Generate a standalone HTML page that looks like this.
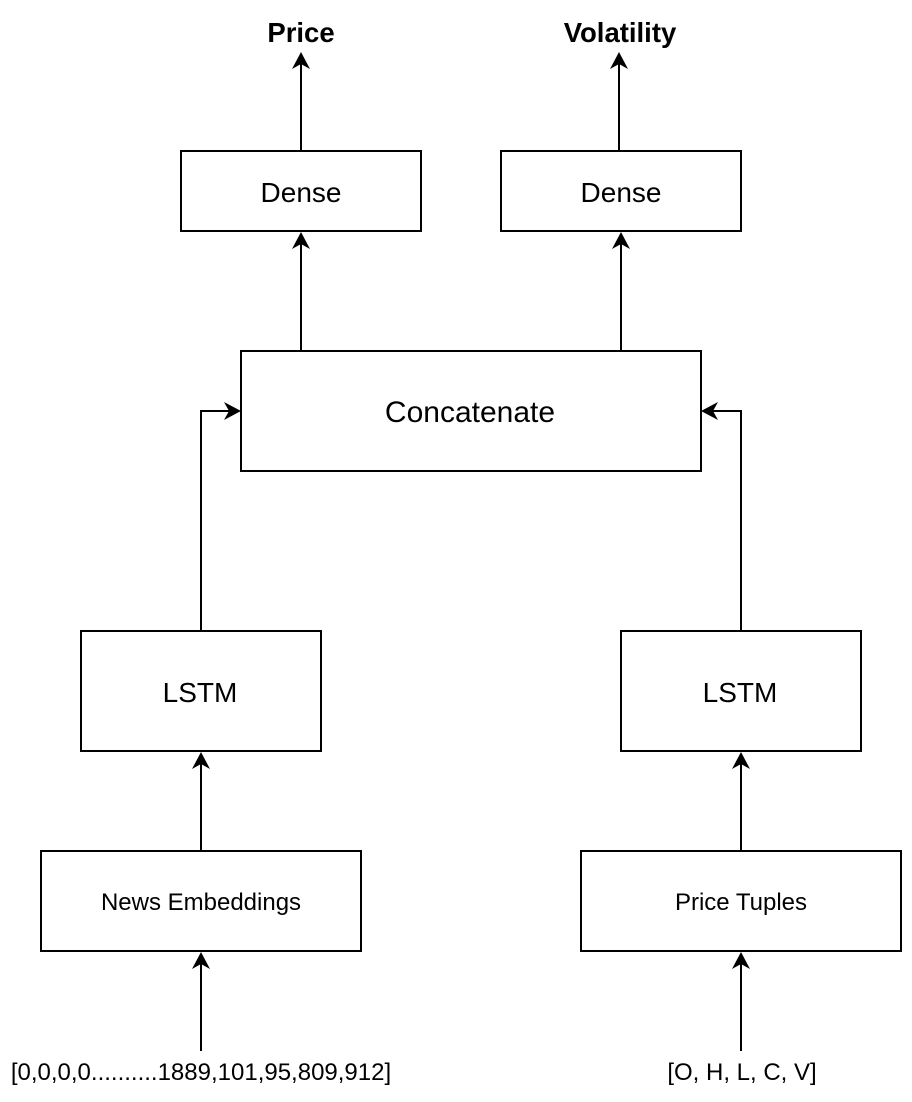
<!DOCTYPE html>
<html><head><meta charset="utf-8"><style>
html,body{margin:0;padding:0;background:#fff;}
svg{display:block;}
text{font-family:"Liberation Sans",Arial,sans-serif;fill:#000;}
</style></head><body>
<svg width="912" height="1102" viewBox="0 0 912 1102" xmlns="http://www.w3.org/2000/svg">
<g fill="none" stroke="#000" stroke-width="2">
<rect x="181" y="151" width="240" height="80"/>
<rect x="501" y="151" width="240" height="80"/>
<rect x="241" y="351" width="460" height="120"/>
<rect x="81" y="631" width="240" height="120"/>
<rect x="621" y="631" width="240" height="120"/>
<rect x="41" y="851" width="320" height="100"/>
<rect x="581" y="851" width="320" height="100"/>
<path d="M301 151V62"/>
<path d="M619 151V62"/>
<path d="M301 351V242"/>
<path d="M621 351V242"/>
<path d="M201 631V411H230"/>
<path d="M741 631V411H712"/>
<path d="M201 851V762"/>
<path d="M741 851V762"/>
<path d="M201 1051V962"/>
<path d="M741 1051V962"/>
</g>
<g fill="#000">
<path d="M301 52l-9 17 9-5 9 5z"/>
<path d="M619 52l-9 17 9-5 9 5z"/>
<path d="M301 232l-9 17 9-5 9 5z"/>
<path d="M621 232l-9 17 9-5 9 5z"/>
<path d="M201 752l-9 17 9-5 9 5z"/>
<path d="M741 752l-9 17 9-5 9 5z"/>
<path d="M201 952l-9 17 9-5 9 5z"/>
<path d="M741 952l-9 17 9-5 9 5z"/>
<path d="M241 411l-17-9 5 9-5 9z"/>
<path d="M701 411l17-9-5 9 5 9z"/>
</g>
<g text-anchor="middle">
<text x="301" y="42" font-size="27.5" font-weight="bold">Price</text>
<text x="620" y="42" font-size="27.5" font-weight="bold">Volatility</text>
<text x="301" y="202" font-size="28">Dense</text>
<text x="621" y="202" font-size="28">Dense</text>
<text x="470" y="422" font-size="30">Concatenate</text>
<text x="200" y="702" font-size="28">LSTM</text>
<text x="740" y="702" font-size="28">LSTM</text>
<text x="201" y="910" font-size="24">News Embeddings</text>
<text x="741" y="910" font-size="24">Price Tuples</text>
<text x="201" y="1080" font-size="24">[0,0,0,0..........1889,101,95,809,912]</text>
<text x="742" y="1080" font-size="24">[O, H, L, C, V]</text>
</g>
</svg>
</body></html>
